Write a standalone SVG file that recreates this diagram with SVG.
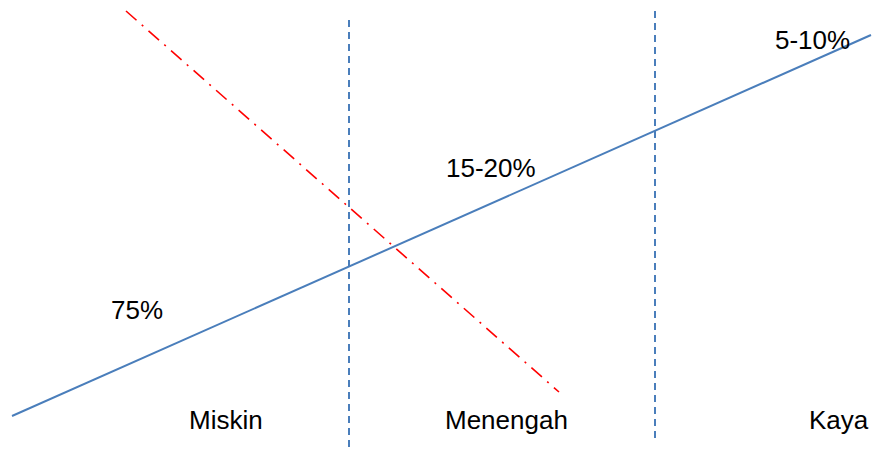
<svg xmlns="http://www.w3.org/2000/svg" width="872" height="449" viewBox="0 0 872 449">
<style>
.lbl{font-family:"Liberation Sans","Open Sans",Arial,sans-serif;font-size:26px;fill:#000}
.div{stroke:#4A7EBB;stroke-width:2;stroke-dasharray:7 5;fill:none}
.trend{stroke:#4A7EBB;stroke-width:2;fill:none}
.red{stroke:#FF0000;stroke-width:1.6;stroke-dasharray:14 7 2 7;fill:none}
</style>
<rect width="872" height="449" fill="#fff"/>
<g id="connectors">
<line class="div" x1="349" y1="20" x2="349" y2="448"/>
<line class="div" x1="655" y1="11" x2="655" y2="440"/>
<line class="red" x1="126" y1="11" x2="559" y2="392"/>
<line class="trend" x1="12" y1="416" x2="871" y2="35"/>
</g>
<g id="label-5-10"><text class="lbl" x="775" y="49">5-10%</text></g>
<g id="label-15-20"><text class="lbl" x="446" y="177">15-20%</text></g>
<g id="label-75"><text class="lbl" x="111" y="319">75%</text></g>
<g id="miskin"><text class="lbl" x="189" y="429">Miskin</text></g>
<g id="menengah"><text class="lbl" x="445" y="429">Menengah</text></g>
<g id="kaya"><text class="lbl" x="809" y="429">Kaya</text></g>
</svg>
